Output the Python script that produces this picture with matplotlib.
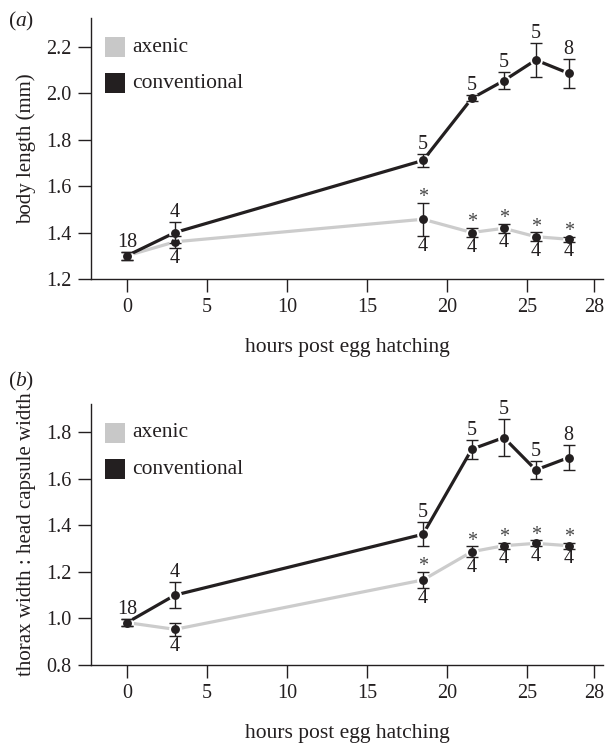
import matplotlib
matplotlib.use("Agg")
import matplotlib.pyplot as plt
from matplotlib.patches import Rectangle

plt.rcParams['font.family'] = ['Liberation Serif', 'DejaVu Serif']
plt.rcParams['mathtext.fontset'] = 'custom'
plt.rcParams['mathtext.rm'] = 'Liberation Serif'
plt.rcParams['mathtext.it'] = 'Liberation Serif:italic'

# ---- data ----
hours = [0, 3, 18.5, 21.55, 23.55, 25.55, 27.6]
xtick_pos = [0, 5, 10, 15, 20, 25, 29.2]
xtick_labels = ['0', '5', '10', '15', '20', '25', '28']

len_conv = [1.30, 1.40, 1.71, 1.977, 2.053, 2.142, 2.085]
len_conv_err = [0.018, 0.045, 0.029, 0.013, 0.037, 0.074, 0.063]
len_axen = [1.30, 1.36, 1.457, 1.40, 1.418, 1.382, 1.371]
len_axen_err = [0.018, 0.026, 0.072, 0.020, 0.019, 0.019, 0.010]

ratio_conv = [0.982, 1.10, 1.361, 1.726, 1.776, 1.637, 1.69]
ratio_conv_err = [0.015, 0.057, 0.052, 0.041, 0.079, 0.039, 0.055]
ratio_axen = [0.982, 0.953, 1.165, 1.286, 1.312, 1.322, 1.312]
ratio_axen_err = [0.015, 0.029, 0.036, 0.023, 0.013, 0.013, 0.013]

n_conv = ['18', '4', '5', '5', '5', '5', '8']
n_axen = ['', '4', '4', '4', '4', '4', '4']
signif_axen = [False, False, True, True, True, True, True]

DARK = '#231f20'
GREY = '#cccccc'
FS = 14.5
FS_LAB = 15.5

fig = plt.figure(figsize=(6.05, 7.44), dpi=100)

def panel(rect, conv, conv_err, axen, axen_err, ylim, yticks, ylabel, tag, tag_y):
    ax = fig.add_axes(rect)
    ax.plot(hours, axen, color=GREY, lw=2.3, zorder=1, solid_capstyle='butt')
    ax.plot(hours, conv, color=DARK, lw=2.3, zorder=1.5, solid_capstyle='butt')
    for vals in (axen, conv):
        ax.plot(hours, vals, 'o', color=DARK, ms=7.8, mec='white', mew=1.4, zorder=2)
    ax.errorbar(hours, axen, yerr=axen_err, fmt='none', ecolor=DARK, elinewidth=1.0,
                capsize=4.5, capthick=1.0, zorder=3)
    ax.errorbar(hours, conv, yerr=conv_err, fmt='none', ecolor=DARK, elinewidth=1.0,
                capsize=4.5, capthick=1.0, zorder=3)
    for i, h in enumerate(hours):
        ax.annotate(n_conv[i], (h, conv[i] + conv_err[i]), xytext=(0, 3.5),
                    textcoords='offset points', ha='center', va='baseline',
                    fontsize=FS, color=DARK)
        if n_axen[i]:
            ax.annotate(n_axen[i], (h, axen[i] - axen_err[i]), xytext=(0, -0.5),
                        textcoords='offset points', ha='center', va='top',
                        fontsize=FS, color=DARK)
        if signif_axen[i]:
            ax.annotate('*', (h, axen[i] + axen_err[i]), xytext=(0, 0.5),
                        textcoords='offset points', ha='center', va='baseline',
                        fontsize=FS, color='#444444')
    ax.set_xlim(-2.25, 29.75)
    ax.set_ylim(*ylim)
    ax.set_yticks(yticks)
    ax.set_yticklabels([f'{t:.1f}' for t in yticks])
    ax.set_xticks(xtick_pos)
    ax.set_xticklabels(xtick_labels)
    for s in ('top', 'right'):
        ax.spines[s].set_visible(False)
    for s in ('left', 'bottom'):
        ax.spines[s].set_linewidth(1.0)
        ax.spines[s].set_color(DARK)
    ax.tick_params(direction='out', length=9.5, width=1.0, color=DARK,
                   labelsize=FS, labelcolor=DARK)
    ax.tick_params(axis='x', pad=4)
    ax.tick_params(axis='y', pad=4.5)
    ax.set_xlabel('hours post egg hatching', fontsize=FS_LAB, color=DARK, labelpad=15)
    ax.set_ylabel(ylabel, fontsize=15, color=DARK, labelpad=7)
    # legend
    ax_w = rect[2] * 605
    ax_h = rect[3] * 744
    for k, (lab, col) in enumerate([('axenic', '#c8c8c8'), ('conventional', DARK)]):
        x0 = 14 / ax_w
        ytop = 1 - (19 + 36 * k) / ax_h
        ax.add_patch(Rectangle((x0, ytop - 20 / ax_h), 20 / ax_w, 20 / ax_h,
                               transform=ax.transAxes, facecolor=col, edgecolor='none',
                               clip_on=False))
        ax.text(x0 + 27 / ax_w, ytop - 10 / ax_h, lab, transform=ax.transAxes,
                ha='left', va='center', fontsize=FS_LAB, color=DARK)
    fig.text(8 / 605, 1 - tag_y / 744, tag, fontsize=FS_LAB, color=DARK,
             ha='left', va='center')
    return ax

L = 91 / 605
W = (603 - 91) / 605
H = 261 / 744
panel([L, 1 - 279 / 744, W, H], len_conv, len_conv_err, len_axen, len_axen_err,
      (1.2, 2.3226), [1.2, 1.4, 1.6, 1.8, 2.0, 2.2], 'body length (mm)', r'$(a)$', 21)
panel([L, 1 - 665 / 744, W, H], ratio_conv, ratio_conv_err, ratio_axen, ratio_axen_err,
      (0.8, 1.920), [0.8, 1.0, 1.2, 1.4, 1.6, 1.8], 'thorax width : head capsule width',
      r'$(b)$', 381)

fig.savefig('out.png', dpi=100)
